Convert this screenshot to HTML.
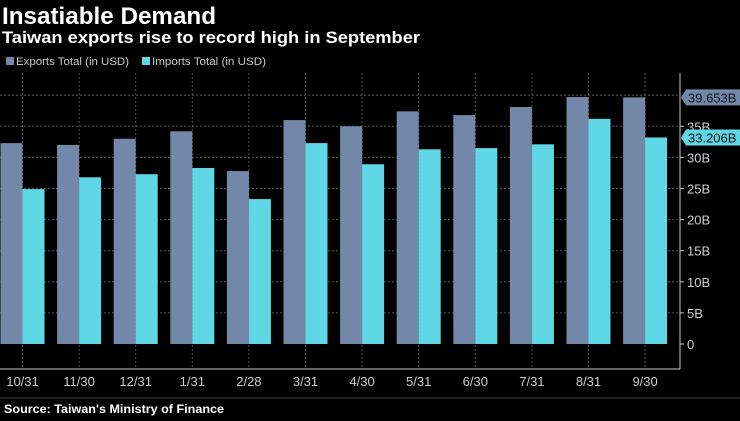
<!DOCTYPE html>
<html><head><meta charset="utf-8"><style>
body{margin:0;background:#000;width:740px;height:416px;overflow:hidden;font-family:"Liberation Sans",sans-serif;}
</style></head><body>
<svg width="740" height="416" xmlns="http://www.w3.org/2000/svg" id="chart" font-family="Liberation Sans, DejaVu Sans, sans-serif">
<text x="2" y="24" fill="#fff" font-size="24" font-weight="bold" textLength="214" lengthAdjust="spacingAndGlyphs">Insatiable Demand</text>
<text x="2" y="43" fill="#fff" font-size="17" font-weight="bold" textLength="418" lengthAdjust="spacingAndGlyphs">Taiwan exports rise to record high in September</text>
<g>
<g><rect x="6" y="57" width="8" height="8" fill="#7388a8"/><text x="16" y="65" fill="#ccc" font-size="11" textLength="113" lengthAdjust="spacingAndGlyphs">Exports Total (in USD)</text></g>
<g><rect x="142" y="57" width="8" height="8" fill="#5fd7e4"/><text x="152" y="65" fill="#ccc" font-size="11" textLength="114" lengthAdjust="spacingAndGlyphs">Imports Total (in USD)</text></g>
</g>
<g id="grid"></g>
<g id="bars"></g>
<g id="axes"></g>
<line x1="0" y1="398" x2="740" y2="398" stroke="#444" stroke-width="1"/>
<text x="4" y="413" fill="#fff" font-size="11.5" font-weight="bold" textLength="220" lengthAdjust="spacingAndGlyphs">Source: Taiwan's Ministry of Finance</text>
</svg>
<script>
const categories=["10/31","11/30","12/31","1/31","2/28","3/31","4/30","5/31","6/30","7/31","8/31","9/30"];
const exportsVals=[32.3,32.0,33.0,34.2,27.8,36.0,35.0,37.4,36.8,38.1,39.7,39.653];
const importsVals=[24.9,26.8,27.3,28.3,23.3,32.3,28.9,31.3,31.5,32.1,36.2,33.206];
const yTicks=[0,5,10,15,20,25,30,35];
const yTickLabels=["0","5B","10B","15B","20B","25B","30B","35B"];
const lastLabels=["39.653B","33.206B"];

const NS="http://www.w3.org/2000/svg";
const y0=344,pxPerB=6.22,axisX=680,topY=73,xAxisY=369;
function yScale(v){return y0-v*pxPerB;}
function xCenter(i){return 22.5+i*56.6;}
function mk(tag,attrs,parent){const e=document.createElementNS(NS,tag);for(const k in attrs)e.setAttribute(k,attrs[k]);parent.appendChild(e);return e;}
const grid=document.getElementById('grid'),bars=document.getElementById('bars'),axes=document.getElementById('axes');
yTicks.forEach((t,i)=>{
  const y=yScale(t);
  if(t>0){const l=mk('line',{x1:0,x2:axisX,y1:y,y2:y,stroke:'#555','stroke-dasharray':'2,2'},grid);
  
  }
  const tk=mk('line',{x1:axisX,x2:axisX+4,y1:y,y2:y,stroke:'#ccc'},axes);
  
  
  const tx=mk('text',{x:axisX+7,y:y+5,fill:'#ccc','font-size':13},axes);
  tx.textContent=yTickLabels[i];
  
  
});
{const y=yScale(40);const l=mk('line',{x1:0,x2:axisX,y1:y,y2:y,stroke:'#555','stroke-dasharray':'2,2'},grid);

}
categories.forEach((c,i)=>{
  const cx=xCenter(i);
  const g=mk('line',{x1:cx,x2:cx,y1:topY,y2:xAxisY,stroke:'#555','stroke-dasharray':'2,2'},grid);
  
  
  const e=mk('rect',{x:cx-22,y:yScale(exportsVals[i]),width:22,height:y0-yScale(exportsVals[i]),fill:'#7388a8'},bars);
  
  
  const m=mk('rect',{x:cx,y:yScale(importsVals[i]),width:22,height:y0-yScale(importsVals[i]),fill:'#5fd7e4'},bars);
  
  
  const t=mk('text',{x:cx,y:386,fill:'#ccc','font-size':13,'text-anchor':'middle'},axes);
  t.textContent=c;
  
  
});
const xa=mk('line',{x1:0,x2:axisX,y1:xAxisY,y2:xAxisY,stroke:'#ccc'},axes);


const ya=mk('line',{x1:axisX,x2:axisX,y1:topY,y2:xAxisY,stroke:'#ccc'},axes);


[[exportsVals[11],'#7388a8',lastLabels[0],'last-value-exports'],[importsVals[11],'#5fd7e4',lastLabels[1],'last-value-imports']].forEach(d=>{
  const y=yScale(d[0]);
  const p=mk('path',{d:`M${axisX+1} ${y} L${axisX+6} ${y-8} H740 V${y+8} H${axisX+6} Z`,fill:d[1]},axes);
  
  
  const t=mk('text',{x:axisX+8,y:y+5,fill:'#111','font-size':13},axes);
  t.textContent=d[2];
  
  
});
</script>
</body></html>
